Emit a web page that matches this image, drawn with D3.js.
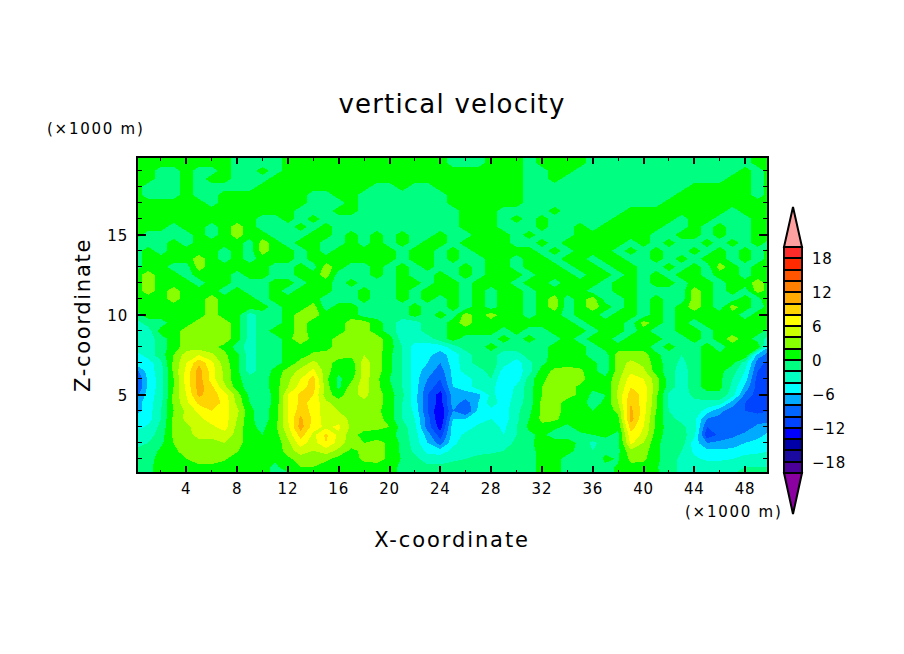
<!DOCTYPE html>
<html>
<head>
<meta charset="utf-8">
<script src="https://cdn.jsdelivr.net/npm/d3@7"></script>
<style>
  html, body { margin: 0; background: #fff; }
  text { font-family: "DejaVu Sans", sans-serif; fill: #000; }
</style>
</head>
<body>
<svg id="chart" width="904" height="654"></svg>
<script>
const xTicks = [4, 8, 12, 16, 20, 24, 28, 32, 36, 40, 44, 48]
const xMinorTicks = [2, 6, 10, 14, 18, 22, 26, 30, 34, 38, 42, 46]
const zTicks = [5, 10, 15]
const zMinorTicks = [1, 2, 3, 4, 6, 7, 8, 9, 11, 12, 13, 14, 16, 17, 18, 19]
const legendTicks = [18, 12, 6, 0, -6, -12, -18]

// one band per 2 units, from -20 up to 20
const levels = [-20, -18, -16, -14, -12, -10, -8, -6, -4, -2, 0, 2, 4, 6, 8, 10, 12, 14, 16, 18]
const bandColors = ['#4b0099', '#1a0aa0', '#0000a8', '#0000ff', '#0044ff', '#0066ff', '#00aaff', '#00ffff', '#00ffc0', '#00ff80',
  '#00ff00', '#88ff00', '#ccff00', '#ffff00', '#ffd400', '#ffaa00', '#ff7f00', '#ff5500', '#ff2a00', '#ff2a2a']

// grid: x = 0..50 every 1 km, rows from z = 20 down to z = 0 every 0.5 km
const velocity = [
  [1,1,1,1,1,1,1,1,-1,-1, -1,-1,1,1,1,1,1,1,1,1, 1,1,1,1,1,-1,-1,-1,1,1, 1,-1,1,1,1,1,-1,-1,-1,-1, -1,-1,-1,-1,-1,-1,-1,-1,-1,1,1],
  [1,1,1,1,1,1,1,1,-1,-1, -1,-1,1,1,1,1,1,1,1,1, 1,1,1,1,1,-1,-1,-1,1,1, 1,-1,1,1,1,1,-1,-1,-1,-1, -1,-1,-1,-1,-1,-1,-1,-1,-1,1,1],
  [1,1,-1,-1,1,-1,-1,1,-1,-1, 1,-1,1,1,1,1,1,1,1,1, 1,1,1,1,1,1,1,1,1,1, 1,-1,-1,1,1,-1,-1,-1,-1,-1, -1,-1,-1,-1,-1,-1,-1,-1,1,-1,1],
  [1,1,-1,-1,1,-1,1,1,-1,-1, -1,1,1,1,1,1,1,1,1,1, 1,1,1,1,1,1,1,1,1,1, 1,-1,-1,1,-1,-1,-1,-1,-1,-1, -1,-1,-1,-1,-1,-1,-1,1,1,-1,1],
  [1,-1,-1,-1,1,-1,-1,-1,-1,-1, 1,1,1,1,1,1,1,1,1,-1, -1,1,-1,-1,1,1,1,1,1,1, 1,-1,-1,-1,-1,-1,-1,-1,-1,-1, -1,-1,-1,-1,1,1,1,1,1,-1,1],
  [1,-1,-1,-1,1,-1,-1,1,1,1, 1,1,1,1,-1,-1,1,1,-1,-1, -1,-1,-1,-1,-1,1,1,1,1,1, 1,-1,-1,-1,-1,-1,-1,-1,-1,-1, -1,-1,-1,1,1,1,1,1,1,-1,1],
  [1,1,1,1,1,1,-1,1,1,1, 1,1,1,1,-1,-1,-1,1,-1,-1, -1,-1,-1,-1,-1,1,1,1,1,1, 1,-1,-1,-1,-1,-1,-1,-1,-1,-1, -1,-1,1,1,1,1,1,1,1,1,1],
  [1,1,1,1,1,1,1,1,1,1, 1,1,1,-1,-1,-1,1,1,-1,-1, -1,-1,-1,-1,-1,-1,1,1,1,-1, -1,-1,-1,1,-1,-1,-1,-1,-1,1, 1,1,1,1,1,1,1,-1,1,1,1],
  [1,1,1,1,1,1,1,1,1,1, -1,-1,1,-1,1,-1,-1,-1,-1,-1, -1,-1,-1,-1,-1,-1,1,1,1,-1, 1,-1,1,-1,-1,-1,-1,-1,1,1, 1,1,1,-1,1,1,-1,-1,-1,1,1],
  [1,1,1,-1,1,1,-1,1,3,1, -1,-1,-1,1,-1,1,-1,-1,-1,-1, -1,-1,-1,-1,-1,-1,1,1,1,-1, -1,-1,1,-1,-1,1,-1,1,1,1, 1,1,-1,-1,1,-1,1,-1,-1,1,1],
  [1,-1,-1,-1,-1,1,-1,1,3,1, 1,-1,-1,-1,1,1,-1,1,-1,1, -1,1,-1,-1,1,-1,-1,1,1,1, -1,1,-1,-1,-1,1,1,1,1,1, 1,-1,-1,1,1,-1,1,-1,-1,1,1],
  [-1,-1,-1,1,-1,1,1,1,1,-1, 3,1,-1,1,1,-1,-1,1,-1,1, -1,1,-1,1,1,-1,1,1,1,1, -1,-1,1,-1,1,1,1,1,1,-1, 1,-1,1,-1,-1,1,-1,1,-1,1,-1],
  [-1,1,-1,1,1,1,1,-1,1,-1, 3,1,1,-1,1,-1,1,1,1,1, 1,-1,1,1,-1,1,-1,1,1,1, 1,1,-1,1,-1,1,1,1,-1,1, -1,1,-1,-1,1,-1,1,-1,1,-1,1],
  [-1,1,1,1,1,3,1,-1,1,-1, 1,1,1,-1,1,1,1,1,1,1, 1,-1,1,1,-1,1,-1,-1,1,1, -1,1,1,-1,1,1,-1,1,1,-1, -1,1,-1,1,-1,1,1,-1,1,-1,1],
  [-1,1,1,-1,-1,3,1,1,1,1, 1,-1,-1,1,-1,3,1,-1,-1,1, -1,1,-1,1,-1,-1,1,-1,1,1, -1,1,1,1,-1,1,1,-1,1,1, -1,-1,1,-1,1,-1,3,1,-1,1,1],
  [1,3,1,1,-1,1,1,1,-1,1, 1,-1,-1,1,1,3,-1,-1,-1,1, -1,1,-1,-1,1,-1,1,-1,1,1, 1,-1,1,1,1,-1,1,1,-1,1, -1,1,-1,1,1,-1,1,1,-1,1,1],
  [1,3,1,1,1,-1,1,1,-1,-1, -1,1,1,-1,1,1,-1,1,-1,-1, -1,1,1,-1,1,1,-1,1,1,1, -1,1,1,-1,1,1,1,-1,1,1, -1,1,1,-1,1,1,-1,1,1,3,1],
  [1,3,1,3,1,1,1,-1,1,-1, -1,1,-1,1,1,1,-1,-1,1,-1, -1,1,-1,1,1,1,-1,1,-1,1, 1,-1,1,1,1,1,-1,-1,1,1, -1,-1,-1,-1,3,1,-1,1,-1,3,1],
  [1,1,1,3,1,1,3,1,1,1, -1,1,1,1,1,-1,-1,-1,1,-1, -1,1,-1,1,-1,1,-1,1,-1,1, 1,-1,1,3,-1,1,3,-1,-1,1, -1,1,-1,-1,3,1,-1,-1,1,-1,3],
  [1,1,1,1,1,1,3,1,1,1, 1,-1,1,1,3,-1,1,1,-1,-1, -1,-1,1,-1,-1,1,-1,1,-1,1, 1,-1,1,3,-1,1,3,1,-1,1, -1,1,-1,1,3,1,-1,3,1,-1,1],
  [-1,1,1,1,1,1,3,1,1,-3, -1,-1,1,3,3,1,1,1,-1,-1, -1,-1,1,-1,1,-1,3,1,3,1, 1,-1,1,1,-1,1,1,-1,1,1, -1,1,-1,1,1,1,1,1,-1,1,1],
  [-3,-1,-1,1,1,3,3,3,1,-3, -1,-1,1,3,1,1,1,3,3,1, -1,-3,-3,-1,-1,1,3,1,1,1, 1,1,1,1,1,-1,1,1,1,-1, 3,1,-1,1,-1,1,1,1,1,1,1],
  [-3,-3,1,1,3,3,3,3,1,-3, -1,1,1,3,1,1,1,3,3,1, -1,-3,-3,-1,-1,1,1,1,1,-1, 1,-1,-1,1,1,1,-1,1,1,-1, 1,-1,-1,1,1,-1,1,1,1,1,-1],
  [-3,-3,-1,1,3,3,3,3,1,-3, -1,-1,1,4,1,1,3,3,3,3, 1,-3,-3,-3,-1,1,-1,-1,-1,1, -1,1,-1,-1,1,-1,1,1,-1,1, 1,1,-1,-1,1,-1,1,3,1,-1,-3],
  [-3,-3,-1,1,3,3,2.5,1.5,-1,-3, -1,-1,1,1,1,1,3,3,3,3, 1,-2,-5,-5,-5,-3,-1,-1,1,-1, -1,-1,-1,1,1,1,-1,1,1,1, 1,-1,1,-1,-1,1,-1,1,2,1.5,-7],
  [-5,-3,-1,2,5,6,4.5,2.5,0.5,-3, -1,-1,1,1,2.5,3,3,2.5,4,3, 0.5,-2,-5,-5.5,-7,-5,-3,-1,-1,-3, -3,-1,-1,1,1,1,-1,-1,3,3, 3,0.5,-1,-2,-1,1,0.5,1,2,-7,-9],
  [-5,-5,-2.5,2.5,6,9.5,6.5,3,0.5,-3, -1,-0.5,0.5,3,4.5,3,1,1,5,3, 0.5,-2,-5,-6,-8,-5,-3,-1,-1,-3, -5,-2.5,-0.5,1,1,1,0.5,-1,3,4.5, 3.5,1,-1,-2.5,-1,1,0.5,0.5,-3,-9,-11],
  [-9,-5,-3,2.5,6.5,11,7,3.5,0.5,-3, -1,0.5,3,4.5,6.5,3,0.5,0.5,5,3, 0.5,-2,-5,-7,-9,-5.5,-3,-3,-1,-5, -5,-3,1,2.5,3,2.5,0.5,-1,3,5.5, 4.5,1,-1,-3,-1,1,0.5,-1,-4,-10,-11],
  [-11,-5.5,-3,2,7,11,7,3.5,0.5,-1, -1,1,3.5,6,9,2.5,-0.5,1.5,5,2.5, 0,-2,-5,-8,-10,-5.5,-5,-3,-2,-6, -5.5,-1,1.5,3,3,3,0.5,0.5,3.5,7, 6,3,-1,-3,-1,1,0.5,-2,-5,-11,-12],
  [-11,-5.5,-3,2,6.5,11,8.5,4.5,1,-1, -1,1,4,7,9,3,-0.5,3,5,2.5, 0.5,-2,-5,-9,-11,-6,-5,-3,-3,-6, -3.5,-1,2,3,3,1.5,0.5,0.5,4,8, 7,3,-1,-3,-1,1,0.5,-2.5,-6.5,-11,-12],
  [-9,-5,-3,2.5,6,10.5,9,7,3,-0.5, -1,0.5,6,8.5,8,3,1,3.5,4.5,3, 1,-1.5,-5,-10,-13,-7,-7,-6.5,-3.5,-5, -3.5,-1,2,3,3,1.5,-0.5,0,4.5,9, 7.5,2.5,-2.5,-3,-1.5,-1,-0.5,-3,-8.5,-11,-11],
  [-7,-5,-2.5,2.5,5.5,8.5,9,7.5,3.5,0, -1,0.5,6,8.5,7.5,4.5,3,3.5,3.5,3, 1,-2,-5,-10,-13,-7,-9,-6,-3,-5, -3,-1,2.5,3,1,1,-1,0.5,4,10, 7,2.5,-2.5,-3,-2.5,-2.5,-3,-7,-10,-11,-12],
  [-7,-5,-2,2,4.5,6.5,8,7,4.5,0.5, -1,1,6,9,7.5,4.5,4,3.5,3,2.5, 1,-2,-4.5,-10,-14,-8,-10,-5.5,-4.5,-5, -2.5,-0.5,2.5,3,1,0.5,0,1,2.5,10.5, 7,2,-2,-3,-2.5,-5,-7.5,-9,-10,-10.5,-10],
  [-5,-5,-2,2.5,4.5,5.5,7,7,4,0.5, -1,1,6,10.5,7.5,5,5,3.5,3,3, 1,-2,-4,-9,-14,-6,-6,-5,-4,-5, -2.5,0,2.5,2.5,1,1,0,1,1.5,11, 6.5,1.5,-1.5,-2.5,-3.5,-8,-8.5,-10,-9.5,-9,-9],
  [-5,-3.5,-1.5,2.5,3.5,5,5.5,7,3.5,0.5, -0.5,1.5,5.5,11,7,5.5,6.5,3.5,3,3, 2,-1,-3.5,-9,-13,-5,-5,-3.5,-3,-4.5, -2,0.5,1.5,0.5,-0.5,1,0,1,0.5,9, 6,1.5,-1,-1.5,-3,-10,-9.5,-9.5,-9,-7.5,-6.5],
  [-3,-3,-1,2.5,3.5,4.5,4.5,5,3.5,0.5, 0,1,4.5,9,5.5,8.5,5.5,3,1,0.5, 1,-1,-3,-7,-11,-5,-3.5,-3,-3,-4, -2,-0.5,0.5,-1,-1,-0.5,0,0.5,-0.5,7.5, 5.5,1,-1,-1,-3.5,-11.5,-9.5,-8.5,-7.5,-6.5,-5.5],
  [-3,-2,-0.5,2,3,3.5,3.5,4,3.2,0.5, 0,0.5,3.5,7,5,8,5,3,2,3, 1.5,-0.5,-3,-6,-9,-4.5,-3,-3,-3,-3, -1.5,-0.5,1,1,1,-0.5,-2.5,-1,-0.5,6.5, 4,0.5,-1,-1,-5,-8,-7.5,-7,-6,-5.5,-4.5],
  [-1.5,-1.5,0.5,1.5,3,3.5,3,3,2.2,0.5, 0,0.5,3,5,4,5,3.5,1.5,2.5,3, 1.5,-0.5,-2.5,-4.5,-5,-3.5,-2.5,-2.5,-2.5,-2, -1,-0.5,0.5,1,0.5,-0.5,-2,-0.5,-0.5,3.5, 3,0.5,-1,-2,-4.5,-5.5,-5.5,-5.5,-5,-4.5,-4],
  [-1,-0.5,0.5,1,2,3,3,2.3,1,0.5, 0.2,0.2,1.5,3,3,2.5,1.2,1,2.5,3, 1.5,-0.2,-1.5,-3,-3,-2.5,-2,-1.5,-1,-1, -0.5,-0.5,0.5,0.5,-0.5,-1,-1.5,0.5,-0.2,2.5, 2.5,0.5,-1,-2.5,-3.5,-4.5,-4.5,-4,-3,-3,-3],
  [-1,-0.3,0.5,1,1,1.5,1.5,1,1,0.5, 0.3,-0.2,0.5,2,2,1,0.5,0.5,1,1, 0.5,-0.3,-1,-1.5,-1.5,-1,-1,-1,-0.5,-0.5, -0.5,-0.5,0.5,0.5,-0.5,-1,-1,-0.5,0.2,1.5, 1,0.2,-1,-2.5,-2.5,-2.5,-2.5,-2.5,-2,-2,-2],
  [-1,-0.3,0.5,1,1,1,1,1,1,0.5, 0.3,-0.2,-0.2,1,1,1,0.5,0.5,0.5,0.5, 0.5,-0.3,-1,-1,-1,-1,-1,-1,-0.5,-0.5, -0.5,-0.5,0.5,0.5,-0.5,-1,-1,-1,0.5,1, 1,0.3,-1,-2.5,-2,-2,-2,-2,-2,-2,-2]
]

const frame = { left: 137, right: 768, top: 157, bottom: 473 }
const legendBox = { left: 784, right: 802, top: 247, bottom: 473 }

const svg = d3.select('#chart')

const xScale = d3.scaleLinear().domain([0.12, 49.8]).range([frame.left, frame.right])
const zScale = d3.scaleLinear().domain([0.12, 19.87]).range([frame.bottom, frame.top])

const nx = velocity[0].length
const nz = velocity.length
const zStep = 0.5

function plotField () {
  svg.append('clipPath').attr('id', 'plot-clip')
    .append('rect')
    .attr('x', frame.left)
    .attr('y', frame.top)
    .attr('width', frame.right - frame.left)
    .attr('height', frame.bottom - frame.top)

  const contours = d3.contours().size([nx, nz]).thresholds(levels)(velocity.flat())
  // d3.contours puts sample i at i + 0.5
  const path = d3.geoPath(d3.geoTransform({
    point: function (cx, cy) {
      this.stream.point(xScale(cx - 0.5), zScale((nz - 1 - (cy - 0.5)) * zStep))
    }
  }))

  svg.append('g')
    .attr('clip-path', 'url(#plot-clip)')
    .selectAll('path')
    .data(contours)
    .join('path')
    .attr('d', path)
    .attr('fill', (d, i) => bandColors[i])
    .attr('shape-rendering', 'crispEdges')
}

function plotTicks () {
  const g = svg.append('g').attr('stroke', '#000').attr('shape-rendering', 'crispEdges')
  const sides = [
    { ticks: xTicks, len: 7, w: 2 },
    { ticks: xMinorTicks, len: 3.5, w: 1 }
  ]
  sides.forEach(s => {
    g.selectAll(null).data(s.ticks.flatMap(t => [[t, frame.bottom, -s.len], [t, frame.top, s.len]]))
      .join('line')
      .attr('x1', d => xScale(d[0]))
      .attr('x2', d => xScale(d[0]))
      .attr('y1', d => d[1])
      .attr('y2', d => d[1] + d[2])
      .attr('stroke-width', s.w)
  })
  const zSides = [
    { ticks: zTicks, len: 9, w: 2 },
    { ticks: zMinorTicks, len: 5, w: 1 }
  ]
  zSides.forEach(s => {
    g.selectAll(null).data(s.ticks.flatMap(t => [[t, frame.left, s.len], [t, frame.right, -s.len]]))
      .join('line')
      .attr('y1', d => zScale(d[0]))
      .attr('y2', d => zScale(d[0]))
      .attr('x1', d => d[1])
      .attr('x2', d => d[1] + d[2])
      .attr('stroke-width', s.w)
  })

  svg.append('rect')
    .attr('x', frame.left)
    .attr('y', frame.top)
    .attr('width', frame.right - frame.left)
    .attr('height', frame.bottom - frame.top)
    .attr('fill', 'none')
    .attr('stroke', '#000')
    .attr('stroke-width', 2)
    .attr('shape-rendering', 'crispEdges')

  svg.append('g').selectAll('text').data(xTicks).join('text')
    .attr('x', d => xScale(d))
    .attr('y', 494)
    .attr('text-anchor', 'middle')
    .attr('font-size', 15)
    .attr('letter-spacing', 0.8)
    .text(d => d)

  svg.append('g').selectAll('text').data(zTicks).join('text')
    .attr('x', 128)
    .attr('y', d => zScale(d) + 6)
    .attr('text-anchor', 'end')
    .attr('font-size', 15)
    .attr('letter-spacing', 0.8)
    .text(d => d)
}

function plotLabels () {
  const label = (x, y, size, text, spacing) => svg.append('text')
    .attr('x', x)
    .attr('y', y)
    .attr('font-size', size)
    .attr('letter-spacing', spacing)
    .text(text)

  label(452, 113, 26, 'vertical velocity', 1.2).attr('text-anchor', 'middle')
  label(47, 134, 15, '(×1000 m)', 1.75)
  label(685, 517, 15, '(×1000 m)', 1.75)
  label(452, 547, 21, 'X-coordinate', 1.9).attr('text-anchor', 'middle')
  label(0, 0, 21, 'Z-coordinate', 1.7)
    .attr('text-anchor', 'middle')
    .attr('transform', 'translate(90,315) rotate(-90)')
}

function plotLegend () {
  const legendScale = d3.scaleLinear().domain([-20, 20]).range([legendBox.bottom, legendBox.top])
  const midX = (legendBox.left + legendBox.right) / 2

  const g = svg.append('g').attr('stroke', '#000').attr('stroke-width', 2)
  g.selectAll('rect').data(levels).join('rect')
    .attr('x', legendBox.left)
    .attr('width', legendBox.right - legendBox.left)
    .attr('y', d => legendScale(d + 2))
    .attr('height', d => legendScale(d) - legendScale(d + 2))
    .attr('fill', (d, i) => bandColors[i])
    .attr('shape-rendering', 'crispEdges')

  g.append('path')
    .attr('d', `M${legendBox.left},${legendBox.top}L${midX},207L${legendBox.right},${legendBox.top}Z`)
    .attr('fill', '#ffa0a0')
  g.append('path')
    .attr('d', `M${legendBox.left},${legendBox.bottom}L${midX},514L${legendBox.right},${legendBox.bottom}Z`)
    .attr('fill', '#8b00a0')

  svg.append('g').selectAll('text').data(legendTicks).join('text')
    .attr('x', 812)
    .attr('y', d => legendScale(d) + 6)
    .attr('font-size', 15)
    .attr('letter-spacing', 0.8)
    .text(d => (d < 0 ? '\u2212' + Math.abs(d) : d))
}

plotField()
plotTicks()
plotLabels()
plotLegend()
</script>
</body>
</html>
